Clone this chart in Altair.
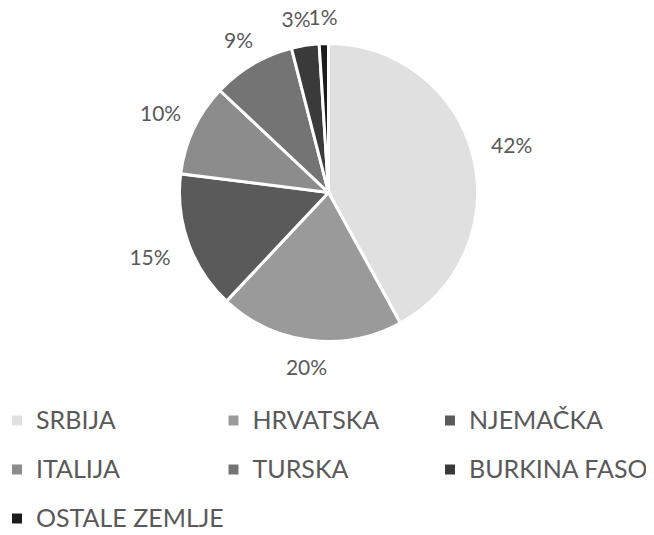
import altair as alt
import pandas as pd

countries = ["SRBIJA", "HRVATSKA", "NJEMAČKA", "ITALIJA", "TURSKA", "BURKINA FASO", "OSTALE ZEMLJE"]
shares = [42, 20, 15, 10, 9, 3, 1]
greys = ["#e0e0e0", "#9a9a9a", "#5a5a5a", "#8c8c8c", "#747474", "#3a3a3a", "#1c1c1c"]

CX, CY, R = 320.5, 184.5, 149

df = pd.DataFrame({"zemlja": countries, "udio": shares, "red": list(range(len(countries)))})
df["oznaka"] = df["udio"].astype(str) + "%"

colour = alt.Color("zemlja:N", scale=alt.Scale(domain=countries, range=greys), legend=None)

pie = (
    alt.Chart(df)
    .mark_arc(outerRadius=R, stroke="white", strokeWidth=3)
    .encode(
        theta=alt.Theta("udio:Q", stack=True),
        order=alt.Order("red:Q"),
        x=alt.value(CX),
        y=alt.value(CY),
        color=colour,
    )
)

# label placed at a fixed gap from the pie edge to the nearest edge of its text box;
# a small slice followed by another slice is nudged left to avoid a collision
labels = (
    alt.Chart(df)
    .transform_window(cum="sum(udio)", sort=[alt.SortField("red")])
    .transform_joinaggregate(total="sum(udio)")
    .transform_calculate(mid="2*PI*(datum.cum - datum.udio/2)/datum.total")
    .transform_calculate(
        lr="168 + min(length(datum.oznaka)*6.8/(abs(sin(datum.mid))+1e-6), 7.5/(abs(cos(datum.mid))+1e-6))"
    )
    .transform_calculate(
        px=f"{CX} + datum.lr*sin(datum.mid) - (datum.udio < 5 && datum.cum < datum.total ? 5 : 0)",
        py=f"{CY} - datum.lr*cos(datum.mid)",
    )
    .mark_text(font="Lato", fontSize=21, color="#595959", dy=2)
    .encode(
        x=alt.X("px:Q", scale=None, axis=None),
        y=alt.Y("py:Q", scale=None, axis=None),
        text="oznaka:N",
    )
)

# legend drawn as a 3-column grid
leg = alt.Chart(df).transform_calculate(
    lx="9 + (datum.red % 3)*216.5", ly="412.5 + floor(datum.red / 3)*49"
)
xs = alt.X("lx:Q", scale=None, axis=None)
ys = alt.Y("ly:Q", scale=None, axis=None)
leg_sym = leg.mark_square(size=100, opacity=1).encode(x=xs, y=ys, color=colour)
leg_txt = leg.mark_text(
    align="left", baseline="middle", dx=19, font="Lato", fontSize=25, color="#595959"
).encode(x=xs, y=ys, text="zemlja:N")

chart = (
    (pie + labels + leg_sym + leg_txt)
    .properties(width=638, height=519, padding=0, autosize="none")
    .configure_view(stroke=None)
)

chart.save("out.html", embed_options={"renderer": "svg", "actions": False})
